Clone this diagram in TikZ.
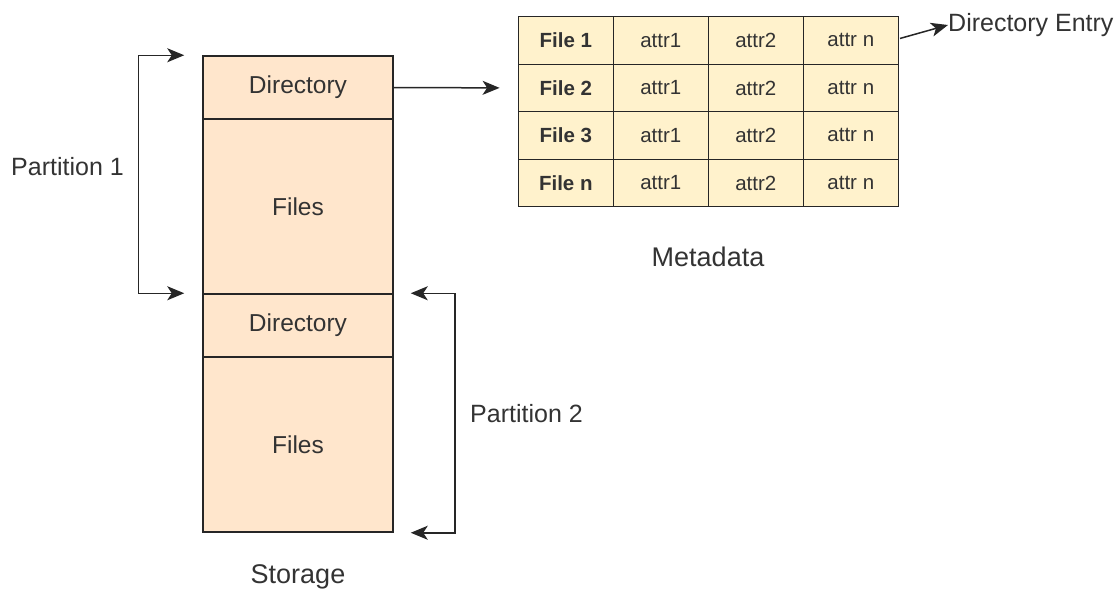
\documentclass[tikz,border=0pt]{standalone}
\usepackage{fontspec}
\setmainfont{Liberation Sans}
\usetikzlibrary{arrows.meta,calc}
\definecolor{peach}{HTML}{FFE6CC}
\definecolor{cream}{HTML}{FFF2CC}
\definecolor{ink}{HTML}{262626}
\definecolor{txt}{HTML}{333333}

\tikzset{
  tip/.tip={Stealth[length=17pt,width=14pt,inset=4.5pt]},
  seg/.style={draw=ink, fill=peach, line width=1.5pt, minimum width=190pt,
              inner sep=0pt, text=txt, font=\fontsize{24.5}{28}\selectfont},
  cell/.style={draw=ink, fill=cream, line width=1.4pt, minimum width=95pt,
               minimum height=47.5pt, inner sep=0pt, text=txt,
               font=\fontsize{20.5}{24}\selectfont},
  head/.style={cell, font=\fontsize{20.5}{24}\selectfont\bfseries},
  lbl/.style={text=txt, inner sep=0pt, font=\fontsize{25}{30}\selectfont},
  big/.style={text=txt, inner sep=0pt, font=\fontsize{27}{32}\selectfont},
  link/.style={draw=ink, line width=1.5pt, -tip},
  span/.style={draw=ink, line width=1.5pt, tip-tip},
}

\begin{document}
\begin{tikzpicture}[x=1pt, y=-1pt]
\useasboundingbox (0,0) rectangle (1120,595);

% storage column
\node[seg, minimum height=63pt]  (dir1)   at (298,87.5)  {Directory};
\node[seg, minimum height=175pt] (files1) at (298,206.5) {Files};
\node[seg, minimum height=63pt]  (dir2)   at (298,325.5) {Directory};
\node[seg, minimum height=175pt] (files2) at (298,444.5) {Files};
\node[big] (storage) at (298,577) {Storage};

% metadata table
\foreach \r/\f in {1/File 1,2/File 2,3/File 3,4/File n}{
  \pgfmathsetmacro{\yy}{16.7+47.5*(\r-0.5)}
  \node[head] (c\r1) at (565.8,\yy) {\f};
  \node[cell] (c\r2) at (660.8,\yy) {attr1};
  \node[cell] (c\r3) at (755.8,\yy) {attr2};
  \node[cell] (c\r4) at (850.8,\yy) {attr n};
}
\node[big] (meta) at (708,257) {Metadata};
\node[lbl, anchor=west] (entry) at (948,25) {Directory Entry};

% partition labels
\node[lbl] (p1) at (67.5,167) {Partition 1};
\node[lbl, anchor=west] (p2) at (470,414) {Partition 2};

% partition extents
\coordinate (p1top) at ($(dir1.north west)+(-18,0)$);
\coordinate (p1bot) at ($(dir2.north west)+(-18,0)$);
\coordinate (p2top) at ($(dir2.north east)+(17,0)$);
\coordinate (p2bot) at ($(files2.south east)+(17,0)$);
\draw[span] (p1top) -- ++(-46,0) |- (p1bot);
\draw[span] (p2top) -- ++(44,0) |- (p2bot);

% connectors
\draw[link, shorten >=18pt] (dir1.east) -- (c21.west);
\draw[link] ($(c14.east)+(1,-2)$) -- (entry.west);
\end{tikzpicture}
\end{document}
